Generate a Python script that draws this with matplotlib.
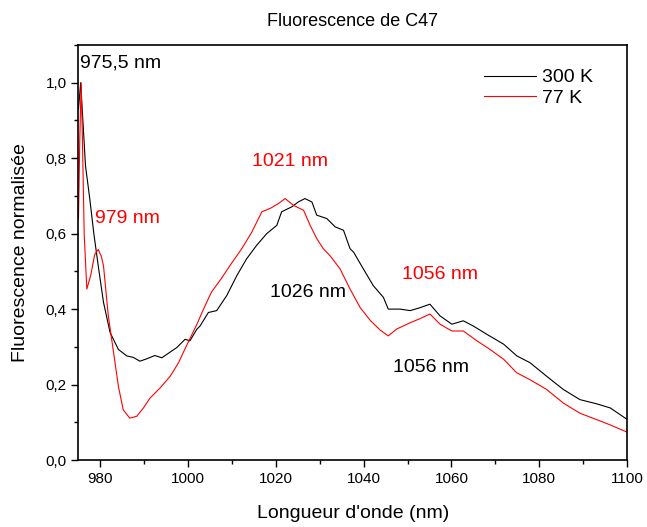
import matplotlib as mpl
mpl.use('Agg')
import matplotlib.pyplot as plt
from matplotlib.ticker import MultipleLocator, FuncFormatter

plt.rcParams['font.family'] = ['Liberation Sans', 'DejaVu Sans']

# 300 K spectrum
wl_300 = [975.0, 975.5, 976.0, 976.6, 977.6, 978.5, 979.5, 980.7, 982.2, 984.1,
          986.0, 987.5, 989.0, 990.5, 992.4, 994.0, 995.5, 997.4, 999.3, 1000.4,
          1002.0, 1002.7, 1004.6, 1006.5, 1008.8, 1011.1, 1013.3, 1015.6, 1017.9, 1020.2,
          1021.3, 1023.6, 1025.1, 1026.6, 1028.2, 1029.3, 1031.6, 1033.5, 1035.4, 1036.9,
          1037.7, 1039.9, 1042.2, 1044.5, 1045.6, 1048.3, 1050.6, 1052.9, 1055.1, 1057.4,
          1060.1, 1062.7, 1065.0, 1068.1, 1071.9, 1074.9, 1077.9, 1081.7, 1085.5, 1089.3,
          1093.1, 1096.2, 1100.0]
fl_300 = [0.93, 1.0, 0.9, 0.78, 0.69, 0.6, 0.515, 0.418, 0.338, 0.293,
          0.276, 0.272, 0.262, 0.268, 0.277, 0.271, 0.283, 0.298, 0.32, 0.316,
          0.347, 0.355, 0.391, 0.396, 0.436, 0.489, 0.533, 0.569, 0.60, 0.622,
          0.658, 0.671, 0.684, 0.693, 0.684, 0.649, 0.64, 0.618, 0.609, 0.56,
          0.551, 0.507, 0.462, 0.431, 0.40, 0.40, 0.396, 0.404, 0.413, 0.382,
          0.36, 0.369, 0.355, 0.333, 0.307, 0.276, 0.258, 0.222, 0.187, 0.16,
          0.149, 0.138, 0.108]

# 77 K spectrum
wl_77 = [975.0, 975.3, 975.6, 975.9, 976.3, 976.9, 977.8, 978.7, 979.5, 980.2,
         980.7, 981.8, 982.9, 984.1, 985.2, 986.7, 988.3, 989.8, 991.3, 993.6,
         995.9, 997.8, 999.7, 1002.0, 1003.5, 1005.3, 1007.5, 1009.5, 1012.2, 1014.5,
         1016.8, 1018.7, 1020.6, 1022.1, 1024.0, 1026.3, 1027.8, 1029.3, 1030.8, 1032.3,
         1034.6, 1036.9, 1039.2, 1041.5, 1043.7, 1045.6, 1047.5, 1050.6, 1052.9, 1055.1,
         1057.4, 1060.1, 1062.7, 1065.8, 1068.8, 1071.9, 1074.9, 1077.9, 1081.7, 1085.5,
         1089.3, 1093.1, 1096.2, 1100.0]
fl_77 = [0.64, 0.85, 1.0, 0.85, 0.6, 0.453, 0.49, 0.545, 0.558, 0.54,
         0.515, 0.382, 0.293, 0.195, 0.133, 0.111, 0.116, 0.138, 0.164, 0.191,
         0.222, 0.258, 0.305, 0.36, 0.40, 0.445, 0.48, 0.515, 0.56, 0.604,
         0.658, 0.667, 0.68, 0.693, 0.675, 0.662, 0.622, 0.587, 0.56, 0.542,
         0.507, 0.453, 0.404, 0.37, 0.345, 0.329, 0.347, 0.364, 0.375, 0.387,
         0.36, 0.342, 0.342, 0.316, 0.293, 0.267, 0.231, 0.213, 0.187, 0.151,
         0.124, 0.107, 0.093, 0.074]

# peak annotations: text, x, y, colour, alignment
peak_labels = [
    ('975,5 nm', 975.3, 1.053, 'black', 'left'),
    ('979 nm', 978.8, 0.64, 'red', 'left'),
    ('1021 nm', 1023.3, 0.792, 'red', 'center'),
    ('1026 nm', 1027.4, 0.445, 'black', 'center'),
    ('1056 nm', 1057.4, 0.493, 'red', 'center'),
    ('1056 nm', 1055.3, 0.245, 'black', 'center'),
]

fig = plt.figure(figsize=(6.47, 5.27), dpi=100)
ax = fig.add_axes([0.1213, 0.1271, 0.969 - 0.1213, 0.9146 - 0.1271])

ax.plot(wl_300, fl_300, '-', color='black', lw=0.8, label='300 K')
ax.plot(wl_77, fl_77, '-', color='red', lw=0.8, label='77 K')

for txt, x, y, c, ha in peak_labels:
    ax.text(x, y, txt, color=c, fontsize=14, ha=ha, va='center')

ax.set_xlim(975, 1100)
ax.set_ylim(0, 1.1)
ax.xaxis.set_major_locator(MultipleLocator(20))
ax.xaxis.set_minor_locator(MultipleLocator(10))
ax.yaxis.set_major_locator(MultipleLocator(0.2))
ax.yaxis.set_minor_locator(MultipleLocator(0.1))
ax.yaxis.set_major_formatter(FuncFormatter(lambda v, p: '{:.1f}'.format(v).replace('.', ',')))
ax.tick_params(which='both', direction='out', labelsize=11, width=1)
ax.tick_params(which='major', length=5)
ax.tick_params(which='minor', length=3)
for s in ax.spines.values():
    s.set_linewidth(1.2)

ax.set_xlabel("Longueur d'onde (nm)", fontsize=14, labelpad=14)
ax.set_ylabel('Fluorescence normalisée', fontsize=14, labelpad=12)
ax.set_title('Fluorescence de C47', fontsize=13, pad=14)

ax.legend(loc='upper right', frameon=False, fontsize=14, handlelength=2.7,
          handletextpad=0.3, labelspacing=0.15, bbox_to_anchor=(0.97, 0.985))

fig.savefig('out.png', dpi=100)
plt.close(fig)
